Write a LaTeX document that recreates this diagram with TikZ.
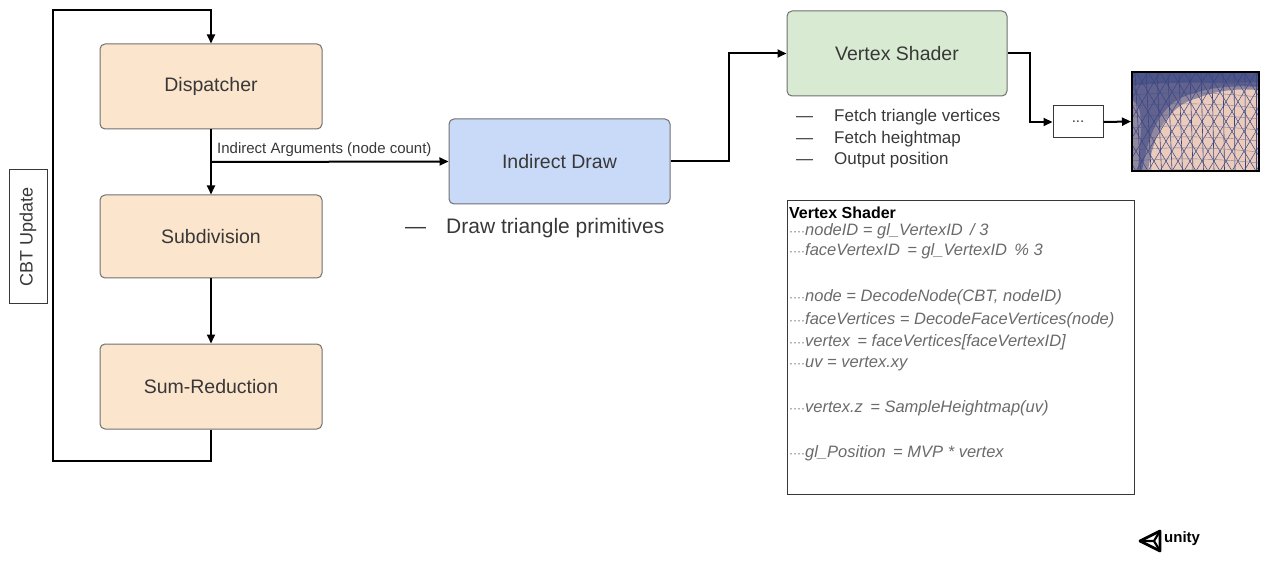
\documentclass[tikz,border=0pt]{standalone}
\usepackage{fontspec}
\setmainfont{Liberation Sans}
\usetikzlibrary{arrows.meta}
\definecolor{peach}{HTML}{FCE5CD}
\definecolor{skyfill}{HTML}{C9DAF8}
\definecolor{mintfill}{HTML}{D9EAD3}
\definecolor{boxline}{HTML}{707070}
\definecolor{txt}{HTML}{383838}
\definecolor{codetxt}{HTML}{6A6A6A}
\definecolor{meshbg}{HTML}{EBCBBC}
\definecolor{meshline}{HTML}{3A4682}
\newcommand{\codeindent}{{\upshape\fontsize{12}{12}\selectfont····}}
\begin{document}
\begin{tikzpicture}[x=1pt,y=-1pt,
  stage/.style={draw=boxline, line width=1pt, rounded corners=5pt,
    minimum width=222pt, minimum height=85pt, text=txt,
    font=\fontsize{19.5}{22}\selectfont},
  flow/.style={line width=2pt, -{Triangle[length=9pt,width=8pt]}},
  note/.style={anchor=west, text=txt, inner sep=0pt},
  codeline/.style={anchor=west, inner sep=0pt, text=codetxt,
    font=\fontsize{16.5}{18}\selectfont\itshape}]
\useasboundingbox (0,0) rectangle (1270,580);

% CBT update loop stages
\node[stage, fill=peach] (disp) at (211,86.5) {Dispatcher};
\node[stage, fill=peach, minimum height=83pt] (subd) at (211,236.5) {Subdivision};
\node[stage, fill=peach] (sumr) at (211,386.5) {Sum-Reduction};
\node[draw=txt, line width=1pt, rotate=90, minimum width=134pt, minimum height=38pt,
  text=txt, font=\fontsize{18}{20}\selectfont] (cbt) at (28,237) {CBT Update};

% draw stages
\node[stage, fill=skyfill, minimum width=221pt] (idraw) at (559.5,161.5) {Indirect Draw};
\node[stage, fill=mintfill, minimum width=220pt] (vs) at (897,53.5) {Vertex Shader};
\node[draw=txt, line width=1pt, minimum width=50pt, minimum height=32pt,
  text=txt, font=\fontsize{15}{16}\selectfont] (dots) at (1078,122) {...};

% rendered mesh thumbnail
\begin{scope}
  \clip (1132,72) rectangle (1259,171);
  \fill[meshbg] (1132,72) rectangle (1259,171);
  \foreach \i in {0,...,12}{
    \draw[meshline, line width=0.6pt] (1124+\i*11,72) -- (1130+\i*10.5,171);
  }
  \foreach \i in {0,...,20}{
    \draw[meshline, line width=0.5pt] (1040+\i*12,171) -- (1100+\i*12,72);
    \draw[meshline, line width=0.5pt] (1100+\i*12,171) -- (1040+\i*12,72);
  }
  \foreach \j in {0,...,8}{
    \draw[meshline!60!meshbg, line width=0.4pt] (1132,84+\j*11) .. controls (1180,80+\j*11) and (1220,82+\j*11) .. (1259,86+\j*11);
  }
  % dense, far-away part of the terrain
  \fill[meshline, opacity=0.5] (1132,72) -- (1259,72) -- (1259,90)
    .. controls (1232,88) and (1212,92) .. (1198,98)
    .. controls (1172,104) and (1154,128) .. (1148,171) -- (1132,171) -- cycle;
  \fill[meshline, opacity=0.55] (1132,72) -- (1259,72) -- (1259,87)
    .. controls (1232,85) and (1208,88) .. (1192,94)
    .. controls (1166,100) and (1150,124) .. (1142,171) -- (1138,171)
    .. controls (1140,135) and (1146,108) .. (1132,100) -- cycle;
  \fill[meshline, opacity=0.5] (1132,72) -- (1259,72) -- (1259,82)
    .. controls (1220,84) and (1180,80) .. (1132,86) -- cycle;
\end{scope}
\node[draw=black, line width=2pt, minimum width=127pt, minimum height=99pt,
  inner sep=0pt] (mesh) at (1195.5,121.5) {};

% connectors
\coordinate (branch) at (211,162);
\draw[flow] (disp.south) -- (subd.north);
\draw[flow] (subd.south) -- (sumr.north);
\draw[flow] (sumr.south) -- (211,461) -- (53,461) -- (53,10) -- (211,10) -- (disp.north);
\draw[flow] (branch) -- (idraw.west);
\node[anchor=south west, text=txt, inner sep=0pt,
  font=\fontsize{15}{16}\selectfont] (iarg) at (217,157) {Indirect Arguments (node count)};
\draw[flow] (idraw.east) -- ++(58,0) |- (vs.west);
\draw[flow] (vs.east) -- ++(22,0) |- (dots.west);
\draw[flow] (dots.east) -- (mesh.west);

% notes under the stages
\node[note, font=\fontsize{21}{22}\selectfont] (dtp) at (405,228) {—\hspace{20pt}Draw triangle primitives};
\node[note, font=\fontsize{17}{18}\selectfont] (n1) at (796,117) {—\hspace{21pt}Fetch triangle vertices};
\node[note, font=\fontsize{17}{18}\selectfont] (n2) at (796,139) {—\hspace{21pt}Fetch heightmap};
\node[note, font=\fontsize{17}{18}\selectfont] (n3) at (796,160) {—\hspace{21pt}Output position};

% vertex shader pseudo code
\node[draw=txt, line width=1pt, minimum width=347pt, minimum height=293pt] (code) at (960.5,347.5) {};
\node[anchor=west, inner sep=0pt, font=\fontsize{16}{18}\selectfont\bfseries] (ct) at (789,213) {Vertex Shader};
\node[codeline] (c1) at (789,231) {\codeindent nodeID = gl\_VertexID\, / 3};
\node[codeline] (c2) at (789,251) {\codeindent faceVertexID\, = gl\_VertexID\, \% 3};
\node[codeline] (c3) at (789,297) {\codeindent node = DecodeNode(CBT, nodeID)};
\node[codeline] (c4) at (789,320) {\codeindent faceVertices = DecodeFaceVertices(node)};
\node[codeline] (c5) at (789,342) {\codeindent vertex\, = faceVertices[faceVertexID]};
\node[codeline] (c6) at (789,364) {\codeindent uv = vertex.xy};
\node[codeline] (c7) at (789,408) {\codeindent vertex.z\, = SampleHeightmap(uv)};
\node[codeline] (c8) at (789,453) {\codeindent gl\_Position\, = MVP * vertex};

% unity logo
\draw[line width=2.8pt, line join=round] (1140,541) -- (1160,531) -- (1160,551) -- cycle;
\draw[line width=2.2pt] (1154,541) -- (1140,541) (1154,541) -- (1160,531) (1154,541) -- (1160,551);
\node[anchor=west, inner sep=0pt, font=\fontsize{15}{16}\selectfont\bfseries] (unity) at (1164,539) {unity};
\end{tikzpicture}
\end{document}
